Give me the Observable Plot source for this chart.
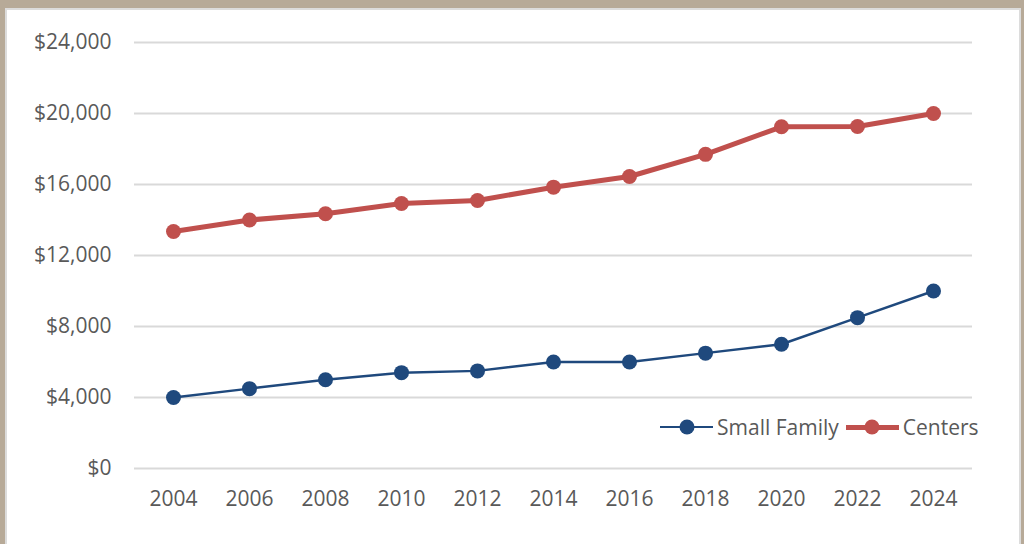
<!DOCTYPE html>
<html><head><meta charset="utf-8">
<script src="https://cdn.jsdelivr.net/npm/d3@7"></script>
<script src="https://cdn.jsdelivr.net/npm/@observablehq/plot@0.6"></script>
<style>
html,body{margin:0;padding:0;width:1024px;height:544px;overflow:hidden;background:#b7aa98;font-family:"Open Sans",sans-serif;}
#panel{position:absolute;left:5px;top:8px;width:1012px;height:540px;background:#fff;border-left:2px solid #dcdcdc;border-top:2px solid #dcdcdc;border-right:2px solid #dcdcdc;}
#chart{position:absolute;left:0;top:0;}
#legend{position:absolute;left:660px;top:413px;display:flex;align-items:center;font-size:21px;color:#595959;white-space:nowrap;}
.item{display:flex;align-items:center;margin-right:7px;}
.sw{position:relative;width:53px;height:16px;margin-right:4px;}
.sw .ln{position:absolute;left:0;right:0;top:50%;}
.sw .dt{position:absolute;left:50%;top:50%;border-radius:50%;transform:translate(-50%,-50%);}
</style></head>
<body>
<div id="panel"></div>
<div id="chart"></div>
<div id="legend"></div>
<script>
const years = ["2004","2006","2008","2010","2012","2014","2016","2018","2020","2022","2024"];
const smallFamily = [4000,4500,5000,5400,5500,6000,6000,6500,7000,8500,10000];
const centers = [13350,14000,14350,14930,15100,15850,16450,17700,19250,19270,20000];
const yTicks = [0,4000,8000,12000,16000,20000,24000];
const seriesNames = ["Small Family","Centers"];
const colors = {"Small Family":"#1f497d","Centers":"#c0504d"};
const widths = {"Small Family":2.5,"Centers":5};

const sf = years.map((y,i)=>({year:y,value:smallFamily[i],series:"Small Family"}));
const ce = years.map((y,i)=>({year:y,value:centers[i],series:"Centers"}));

const fmt = d => "$" + d3.format(",")(d);

const chart = Plot.plot({
  width:1024, height:544,
  marginLeft:134, marginRight:52, marginTop:42, marginBottom:76,
  style:{background:"transparent",fontFamily:"Open Sans, sans-serif",fontSize:"21px",color:"#595959"},
  x:{type:"point",domain:years,padding:0.5,label:null},
  y:{domain:[0,24000],ticks:yTicks,label:null},
  marks:[
    Plot.gridY(yTicks,{stroke:"#d9d9d9",strokeWidth:2,strokeOpacity:1}),
    Plot.axisY({ticks:yTicks,tickSize:0,tickPadding:23,tickFormat:fmt,label:null,fill:"#595959"}),
    Plot.axisX({tickSize:0,tickPadding:23,label:null,fill:"#595959"}),
    Plot.line(sf,{x:"year",y:"value",stroke:colors["Small Family"],strokeWidth:widths["Small Family"]}),
    Plot.dot(sf,{x:"year",y:"value",r:7.5,fill:colors["Small Family"]}),
    Plot.line(ce,{x:"year",y:"value",stroke:colors["Centers"],strokeWidth:widths["Centers"]}),
    Plot.dot(ce,{x:"year",y:"value",r:7.5,fill:colors["Centers"]})
  ]
});
document.getElementById("chart").appendChild(chart);

const leg = document.getElementById("legend");
seriesNames.forEach(n=>{
  const it = document.createElement("div"); it.className="item";
  it.innerHTML = `<div class="sw"><div class="ln" style="height:${widths[n]}px;margin-top:${-widths[n]/2}px;background:${colors[n]}"></div><div class="dt" style="width:15px;height:15px;background:${colors[n]}"></div></div><span>${n}</span>`;
  leg.appendChild(it);
});
</script>
</body></html>
